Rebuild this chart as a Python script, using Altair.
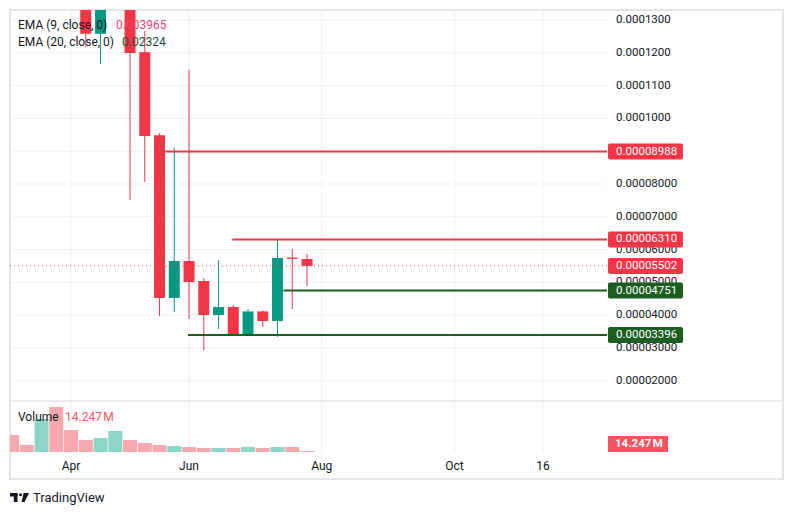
import altair as alt
import pandas as pd

# ---- weekly bars (index 0 = first April bar), prices in units of 1e-5 ----
bar_index = list(range(-4, 17))
open_p = [21.0, 19.2, 18.4, 22.6, 16.3, 14.1, 12.58, 13.9, 14.6, 12.02, 9.49,
          4.524, 5.652, 5.043, 4.006, 4.25, 3.37, 4.116, 3.823, 5.76, 5.713]
high_p = [22.5, 20.1, 24.8, 23.9, 17.2, 14.5, 14.0, 15.2, 15.0, 12.665, 9.555,
          9.098, 11.476, 5.134, 5.683, 4.311, 4.189, 4.14, 6.31, 6.018, 5.866]
low_p = [18.6, 17.6, 17.9, 15.1, 13.6, 12.18, 11.66, 13.4, 7.512, 8.061, 3.976,
         4.098, 3.884, 2.939, 3.579, 3.37, 3.37, 3.64, 3.335, 4.189, 4.89]
close_p = [19.2, 18.4, 22.6, 16.3, 14.1, 12.58, 13.9, 14.6, 11.994, 9.463, 4.524,
           5.652, 5.012, 4.006, 4.25, 3.37, 4.116, 3.823, 5.744, 5.72, 5.502]
volume_m = [240, 100, 465, 635, 310, 170, 197, 296, 170, 127, 99,
            85, 70, 57, 57, 57, 70, 57, 70, 70, 14.247]
UNIT = 1e-5

# price axis ticks
price_ticks = [13, 12, 11, 10, 9, 8, 7, 6, 5, 4, 3, 2]
tick_text = ["0.0001300", "0.0001200", "0.0001100", "0.0001000", "0.00009000",
             "0.00008000", "0.00007000", "0.00006000", "0.00005000",
             "0.00004000", "0.00003000", "0.00002000"]

# horizontal levels
level_price = [8.988, 6.310, 4.751, 3.396]
level_text = ["0.00008988", "0.00006310", "0.00004751", "0.00003396"]
level_start = [6.4, 10.93, 14.4, 7.93]
level_kind = ["res", "res", "sup", "sup"]
last_price = 5.502
last_text = "0.00005502"
last_volume_text = "14.247\u202fM"

# time axis
time_pos = [0, 8, 17, 26, 32]
time_text = ["Apr", "Jun", "Aug", "Oct", "16"]

UP, DOWN = "#089981", "#f23645"
UP_VOL, DOWN_VOL = "#8dd5c9", "#f8a8ae"
SUP = "#1b5e20"
GRID = "#f0f1f5"
FRAME = "#e4e5ec"
INK = "#131722"
FONT = "Roboto"

W, H = 773, 469
PLOT_W = 597
PRICE_H = 391
VOL_BASE, VOL_TOP = 442, 397

bars = pd.DataFrame({
    "i": bar_index,
    "open": [v * UNIT for v in open_p],
    "high": [v * UNIT for v in high_p],
    "low": [v * UNIT for v in low_p],
    "close": [v * UNIT for v in close_p],
    "vol": volume_m,
})
ticks = pd.DataFrame({"p": [v * UNIT for v in price_ticks], "t": tick_text})
levels = pd.DataFrame({
    "p": [v * UNIT for v in level_price], "t": level_text,
    "start": level_start, "kind": level_kind,
})
last = pd.DataFrame({"p": [last_price * UNIT], "t": [last_text]})
times = pd.DataFrame({"i": time_pos, "t": time_text})
last_vol = pd.DataFrame({"v": [volume_m[-1]], "t": [last_volume_text]})

xs = alt.Scale(domain=[-3.8, 36.0], range=[0, PLOT_W], nice=False, zero=False)
ps = alt.Scale(domain=[1.384e-5, 13.305e-5], range=[PRICE_H, 0], nice=False, zero=False)
vs = alt.Scale(domain=[0, 635], range=[VOL_BASE, VOL_TOP], nice=False, zero=False)

X = alt.X("i:Q", scale=xs, axis=None)
dir_color = alt.condition("datum.close >= datum.open", alt.value(UP), alt.value(DOWN))
vol_color = alt.condition("datum.close >= datum.open", alt.value(UP_VOL), alt.value(DOWN_VOL))
level_color = alt.condition("datum.kind == 'res'", alt.value(DOWN), alt.value(SUP))

# ---------------- price pane ----------------
hgrid = alt.Chart(ticks).mark_rule(color=GRID, strokeWidth=1).encode(
    x=alt.value(0), x2=alt.value(PLOT_W), y=alt.Y("p:Q", scale=ps, axis=None))
vgrid = alt.Chart(times).mark_rule(color=GRID, strokeWidth=1).encode(
    x=X, y=alt.value(0), y2=alt.value(PRICE_H))
wicks = alt.Chart(bars).mark_rule(strokeWidth=1, clip=True).encode(
    x=X, y=alt.Y("low:Q", scale=ps, axis=None), y2="high:Q", color=dir_color)
bodies = alt.Chart(bars).mark_bar(size=11, clip=True).encode(
    x=X, y=alt.Y("open:Q", scale=ps, axis=None), y2="close:Q", color=dir_color)
level_lines = alt.Chart(levels).mark_rule(strokeWidth=2).encode(
    x=alt.X("start:Q", scale=xs, axis=None), x2=alt.value(PLOT_W),
    y=alt.Y("p:Q", scale=ps, axis=None), color=level_color)
last_line = alt.Chart(last).mark_rule(strokeWidth=1, strokeDash=[1, 3], color=DOWN).encode(
    x=alt.value(0), x2=alt.value(PLOT_W), y=alt.Y("p:Q", scale=ps, axis=None))
tick_labels = alt.Chart(ticks).mark_text(
    align="left", baseline="middle", font=FONT, fontSize=11.5, color=INK).encode(
    x=alt.value(606), y=alt.Y("p:Q", scale=ps, axis=None), text="t:N")
level_boxes = alt.Chart(levels).mark_rect(yOffset=-8, y2Offset=8, cornerRadius=2).encode(
    x=alt.value(598), x2=alt.value(673),
    y=alt.Y("p:Q", scale=ps, axis=None), y2="p:Q", color=level_color)
level_labels = alt.Chart(levels).mark_text(
    align="left", baseline="middle", font=FONT, fontSize=11.5, color="white").encode(
    x=alt.value(606), y=alt.Y("p:Q", scale=ps, axis=None), text="t:N")
last_box = alt.Chart(last).mark_rect(yOffset=-8, y2Offset=8, cornerRadius=2, color=DOWN).encode(
    x=alt.value(598), x2=alt.value(673),
    y=alt.Y("p:Q", scale=ps, axis=None), y2="p:Q")
last_label = alt.Chart(last).mark_text(
    align="left", baseline="middle", font=FONT, fontSize=11.5, color="white").encode(
    x=alt.value(606), y=alt.Y("p:Q", scale=ps, axis=None), text="t:N")

price_pane = alt.layer(hgrid, vgrid, wicks, bodies, level_lines, last_line,
                       tick_labels, level_boxes, level_labels, last_box, last_label)

# ---------------- volume pane ----------------
vgrid_vol = alt.Chart(times).mark_rule(color=GRID, strokeWidth=1).encode(
    x=X, y=alt.value(PRICE_H), y2=alt.value(VOL_BASE))
vol_bars = alt.Chart(bars).mark_bar(size=14, clip=True).encode(
    x=X, y=alt.Y("vol:Q", scale=vs, axis=None), y2=alt.datum(0), color=vol_color)
vol_box = alt.Chart(last_vol).mark_rect(yOffset=-15, y2Offset=1, cornerRadius=1,
                                        color="#f7525f").encode(
    x=alt.value(598), x2=alt.value(658),
    y=alt.Y("v:Q", scale=vs, axis=None), y2="v:Q")
vol_label = alt.Chart(last_vol).mark_text(
    align="left", baseline="middle", font=FONT, fontSize=11.5, fontWeight="bold",
    color="white", yOffset=-7).encode(
    x=alt.value(605), y=alt.Y("v:Q", scale=vs, axis=None), text="t:N")
vol_pane = alt.layer(vgrid_vol, vol_bars, vol_box, vol_label)

# ---------------- frame, legends and axis text ----------------
separator = alt.Chart(last).mark_rule(color=FRAME, strokeWidth=1.5).encode(
    x=alt.value(0), x2=alt.value(W), y=alt.value(PRICE_H))
time_labels = alt.Chart(times).mark_text(
    align="center", baseline="middle", font=FONT, fontSize=12, color=INK).encode(
    x=X, y=alt.value(456), text="t:N")


def label(txt, x, y, color=INK, size=12, weight="normal"):
    return alt.Chart(last).mark_text(
        align="left", baseline="middle", font=FONT, fontSize=size,
        fontWeight=weight, color=color).encode(
        x=alt.value(x), y=alt.value(y), text=alt.value(txt))


legend = alt.layer(
    label("EMA (9, close, 0)", 8, 15),
    label("0.003965", 106, 15, color="#f2416f"),
    label("EMA (20, close, 0)", 8, 32),
    label("0.02324", 112, 32, color="#174a36"),
    label("Volume", 8, 407),
    label("14.247\u202fM", 55, 407, color="#f7525f"),
    label("TradingView", 23, 488, size=13),
)

# brand mark next to the wordmark
logo_bar = alt.Chart(last).mark_rect(color=INK).encode(
    x=alt.value(0), x2=alt.value(7.5), y=alt.value(483), y2=alt.value(486.5))
logo_stem = alt.Chart(last).mark_rect(color=INK).encode(
    x=alt.value(3.8), x2=alt.value(7.5), y=alt.value(483), y2=alt.value(492))
logo_dot = alt.Chart(last).mark_point(shape="circle", filled=True, size=9,
                                      color=INK, opacity=1).encode(
    x=alt.value(10.5), y=alt.value(484.8))
logo_slash = alt.Chart(last).mark_point(
    shape="M -0.39 -1 L 0.83 -1 L -0.17 1 L -0.83 1 Z",
    filled=True, size=81, color=INK, opacity=1).encode(
    x=alt.value(15.3), y=alt.value(487.5))

chart = alt.layer(
    price_pane, vol_pane, separator, time_labels, legend,
    logo_bar, logo_stem, logo_dot, logo_slash,
).resolve_scale(y="independent").properties(
    width=W, height=H,
    autosize=alt.AutoSizeParams(type="none"),
    padding={"left": 10, "top": 10, "right": 9, "bottom": 36},
    background="white",
).configure_view(stroke=FRAME, strokeWidth=2)

chart.save("out.html", embed_options={"renderer": "svg", "actions": False})
